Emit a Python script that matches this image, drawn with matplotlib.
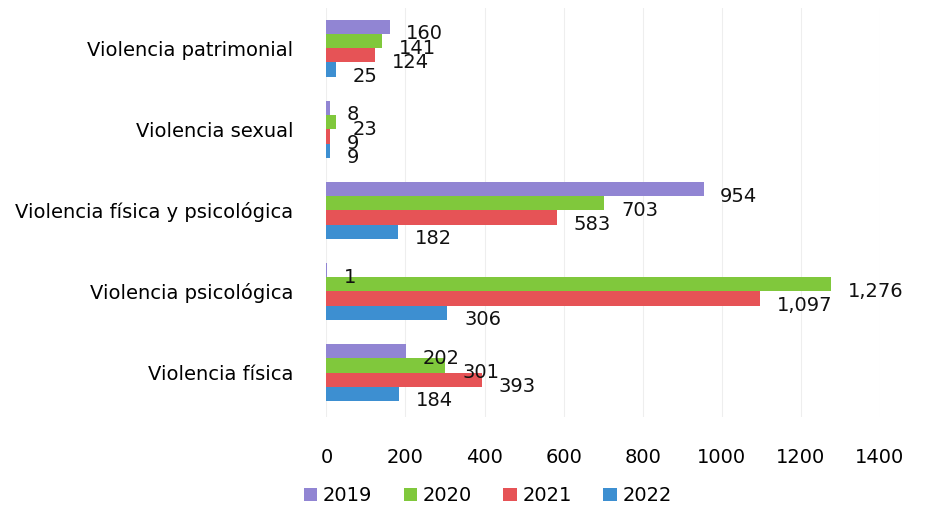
import matplotlib.pyplot as plt
import numpy as np

# ---------------------------------------------------------------------
# Data
# ---------------------------------------------------------------------
categories = [
    "Violencia patrimonial",
    "Violencia sexual",
    "Violencia física y psicológica",
    "Violencia psicológica",
    "Violencia física",
]
years = ["2019", "2020", "2021", "2022"]
v2019 = [160, 8, 954, 1, 202]
v2020 = [141, 23, 703, 1276, 301]
v2021 = [124, 9, 583, 1097, 393]
v2022 = [25, 9, 182, 306, 184]
series = [v2019, v2020, v2021, v2022]
colors = ["#9185d3", "#80c83c", "#e65356", "#3d8fd1"]

# ---------------------------------------------------------------------
# Plot
# ---------------------------------------------------------------------
fig = plt.figure(figsize=(9.38, 5.15), dpi=100)
ax = fig.add_axes([0.348, 0.19, 0.59, 0.795])

y = np.arange(len(categories))
h = 0.175
for i, (vals, col, yr) in enumerate(zip(series, colors, years)):
    pos = y + (i - 1.5) * h
    ax.barh(pos, vals, height=h, color=col, label=yr)
    for p, v in zip(pos, vals):
        ax.annotate(
            f"{v:,}",
            (v, p),
            xytext=(12, -5),
            textcoords="offset points",
            ha="left",
            va="center",
            fontsize=14,
            color="#111111",
        )

ax.set_ylim(len(categories) - 0.45, -0.5)
ax.set_xlim(0, 1400)
ax.set_xticks(np.arange(0, 1401, 200))
ax.set_yticks(y)
ax.set_yticklabels(categories, fontsize=14)
ax.tick_params(axis="x", labelsize=14, length=0, pad=22)
ax.tick_params(axis="y", length=0, pad=24)
for s in ax.spines.values():
    s.set_visible(False)
ax.grid(axis="x", color="#eeeeee", linewidth=0.8)
ax.set_axisbelow(True)

fig.legend(
    loc="lower left",
    bbox_to_anchor=(0.305, -0.015),
    ncol=4,
    frameon=False,
    fontsize=14,
    handlelength=0.7,
    handleheight=0.7,
    columnspacing=1.6,
    handletextpad=0.3,
)

plt.savefig("out.png", dpi=100)
